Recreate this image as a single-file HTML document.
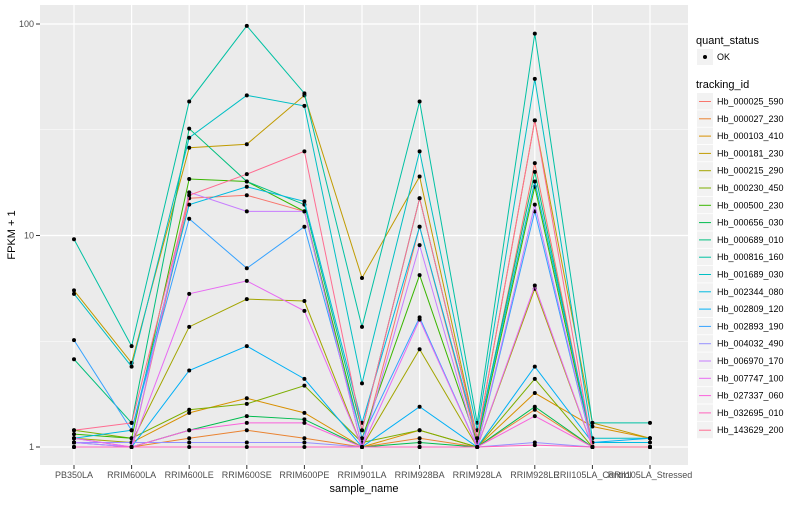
<!DOCTYPE html>
<html><head><meta charset="utf-8"><style>
body{margin:0;background:#fff;font-family:"Liberation Sans",sans-serif}
svg text{font-family:"Liberation Sans",sans-serif}
</style></head><body>
<svg id="chart" width="800" height="500">
<rect x="40" y="5" width="648" height="460" fill="#ebebeb"/>
<g id="grid"></g><g id="series"></g><g id="axes"></g><g id="legend"></g>
</svg>
<script>
const samples=["PB350LA","RRIM600LA","RRIM600LE","RRIM600SE","RRIM600PE","RRIM901LA","RRIM928BA","RRIM928LA","RRIM928LE","RRII105LA_Control","RRII105LA_Stressed"];
const ids=["Hb_000025_590","Hb_000027_230","Hb_000103_410","Hb_000181_230","Hb_000215_290","Hb_000230_450","Hb_000500_230","Hb_000656_030","Hb_000689_010","Hb_000816_160","Hb_001689_030","Hb_002344_080","Hb_002809_120","Hb_002893_190","Hb_004032_490","Hb_006970_170","Hb_007747_100","Hb_027337_060","Hb_032695_010","Hb_143629_200"];
const colors=["#F8766D","#EA8331","#D89000","#C09B00","#A3A500","#7CAE00","#39B600","#00BB4E","#00BF7D","#00C1A3","#00BFC4","#00BAE0","#00B0F6","#35A2FF","#9590FF","#C77CFF","#E76BF3","#FA62DB","#FF62BC","#FF6C91"];
const s000025=[1.1,1.0,15,15.5,13,1.0,11,1.05,22,1.0,1.0];
const s000027=[1.0,1.0,1.1,1.2,1.1,1.0,1.1,1.0,1.5,1.0,1.0];
const s000103=[1.05,1.05,1.45,1.7,1.45,1.0,1.2,1.0,1.8,1.25,1.1];
const s000181=[5.5,2.5,26,27,46,6.3,19,1.1,35,1.3,1.1];
const s000215=[1.1,1.05,3.7,5.0,4.9,1.0,2.9,1.0,5.6,1.0,1.0];
const s000230=[1.2,1.1,1.5,1.6,1.95,1.05,1.2,1.0,2.1,1.0,1.0];
const s000500=[1.15,1.1,18.5,18,13,1.1,6.5,1.05,17,1.0,1.0];
const s000656=[1.0,1.0,1.2,1.4,1.35,1.0,1.05,1.0,1.55,1.0,1.0];
const s000689=[2.6,1.3,32,18,14,1.2,15,1.1,20,1.0,1.0];
const s000816=[9.6,3.0,43,98,47,3.7,43,1.3,90,1.3,1.3];
const s001689=[5.3,2.4,29,46,41,2.0,25,1.2,55,1.1,1.1];
const s002344=[1.1,1.2,14,17,14.5,1.3,11,1.1,18,1.05,1.05];
const s002809=[1.05,1.0,2.3,3.0,2.1,1.0,1.55,1.0,2.4,1.05,1.1];
const s002893=[3.2,1.2,12,7,11,1.1,4.1,1.0,13,1.0,1.0];
const s004032=[1.05,1.05,1.05,1.05,1.05,1.0,1.0,1.0,1.05,1.0,1.0];
const s006970=[1.05,1.0,16,13,13,1.0,9,1.0,14,1.0,1.0];
const s007747=[1.1,1.0,5.3,6.1,4.4,1.0,4.0,1.0,5.8,1.0,1.0];
const s027337=[1.0,1.0,1.2,1.3,1.3,1.0,1.0,1.0,1.4,1.0,1.0];
const s032695=[1.0,1.0,1.0,1.0,1.0,1.0,1.0,1.0,1.02,1.0,1.0];
const s143629=[1.2,1.3,15.5,19.5,25,1.2,15,1.1,35,1.0,1.0];
const seriesData=[s000025,s000027,s000103,s000181,s000215,s000230,s000500,s000656,s000689,s000816,s001689,s002344,s002809,s002893,s004032,s006970,s007747,s027337,s032695,s143629];
const yTicks=[1,10,100];
const NS="http://www.w3.org/2000/svg";
function X(i){return 74+i*57.6;}
function Y(v){return 447-211.5*Math.log10(v);}
function mk(t,a,p){const e=document.createElementNS(NS,t);for(const k in a)e.setAttribute(k,a[k]);p.appendChild(e);return e;}
const grid=document.getElementById('grid'),ser=document.getElementById('series'),ax=document.getElementById('axes'),lg=document.getElementById('legend');
[Math.sqrt(10),Math.sqrt(1000)].forEach(v=>{const l=mk('line',{x1:40,x2:688,y1:Y(v),y2:Y(v),stroke:'#fff','stroke-width':0.6},grid);

});
yTicks.forEach(v=>{const l=mk('line',{x1:40,x2:688,y1:Y(v),y2:Y(v),stroke:'#fff','stroke-width':1.2},grid);


const tk=mk('line',{x1:36,x2:40,y1:Y(v),y2:Y(v),stroke:'#333'},ax);


const t=mk('text',{x:34,y:Y(v)+3,'font-size':9,fill:'#4d4d4d','text-anchor':'end'},ax);t.textContent=v;

});
samples.forEach((s,i)=>{const l=mk('line',{x1:X(i),x2:X(i),y1:5,y2:465,stroke:'#fff','stroke-width':1.2},grid);


const tk=mk('line',{x1:X(i),x2:X(i),y1:465,y2:469,stroke:'#333'},ax);


const t=mk('text',{x:X(i),y:478,'font-size':9,fill:'#4d4d4d','text-anchor':'middle'},ax);t.textContent=s;

});
seriesData.forEach((d,k)=>{const g=mk('g',{},ser);


const pl=mk('polyline',{points:d.map((v,i)=>X(i)+','+Y(v)).join(' '),fill:'none',stroke:colors[k],'stroke-width':1},g);


d.forEach((v,i)=>{const c=mk('circle',{cx:X(i),cy:Y(v),r:2,fill:'#000'},g);

});});
let t=mk('text',{x:364,y:492,'font-size':11,fill:'#000','text-anchor':'middle'},ax);t.textContent='sample_name';


t=mk('text',{x:15,y:235,'font-size':11,fill:'#000','text-anchor':'middle',transform:'rotate(-90 15 235)'},ax);t.textContent='FPKM + 1';


t=mk('text',{x:696,y:44,'font-size':11,fill:'#000'},lg);t.textContent='quant_status';


let r=mk('rect',{x:697,y:49,width:16,height:16,fill:'#f2f2f2'},lg);


mk('circle',{cx:705,cy:57,r:2,fill:'#000'},lg);
t=mk('text',{x:717,y:60,'font-size':9,fill:'#000'},lg);t.textContent='OK';


t=mk('text',{x:696,y:88,'font-size':11,fill:'#000'},lg);t.textContent='tracking_id';


ids.forEach((id,k)=>{const y=93+k*17.3;const g=mk('g',{},lg);


mk('rect',{x:697,y:y,width:16,height:16.5,fill:'#f2f2f2'},g);
mk('line',{x1:699,x2:711,y1:y+8.5,y2:y+8.5,stroke:colors[k],'stroke-width':1},g);
const tt=mk('text',{x:717,y:y+11.5,'font-size':9,fill:'#000'},g);tt.textContent=id;});
</script>
</body></html>
